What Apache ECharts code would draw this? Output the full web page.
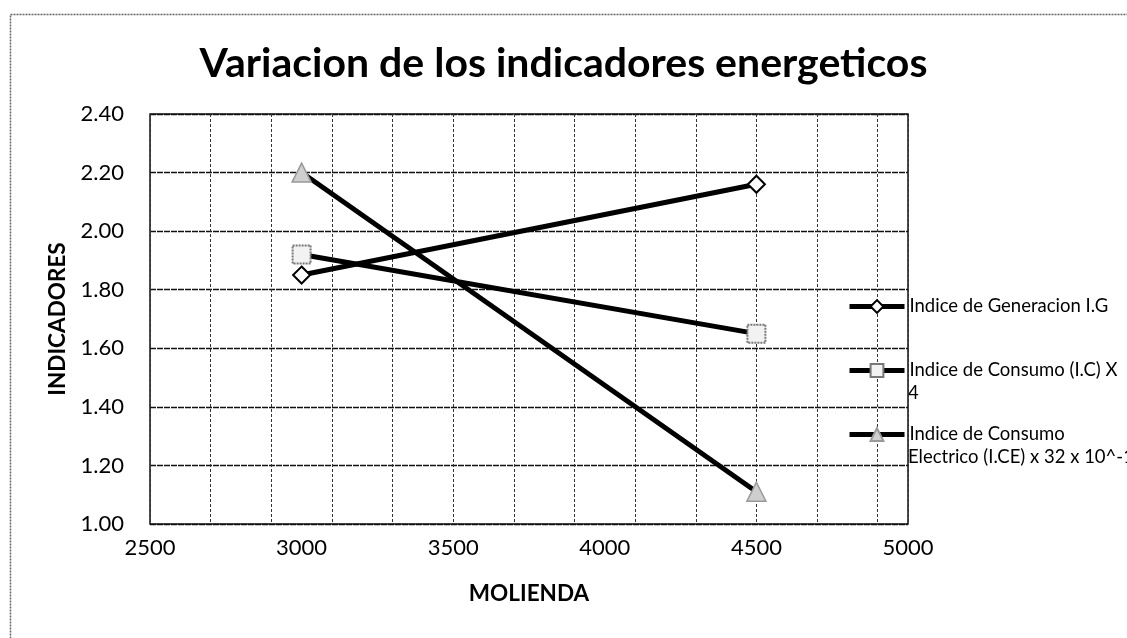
<!DOCTYPE html>
<html>
<head>
<meta charset="utf-8">
<script src="https://cdn.jsdelivr.net/npm/echarts@6/dist/echarts.min.js"></script>
<style>
  html, body { margin: 0; padding: 0; background: #fff; }
  #chart { width: 1127px; height: 638px; }
</style>
</head>
<body>
<div id="chart"></div>
<script>
// Molienda (x) and the three indicators measured at each level
const molienda = [3000, 4500];
const indiceGeneracion = [1.85, 2.16];
const indiceConsumo = [1.92, 1.65];
const indiceConsumoElectrico = [2.20, 1.11];

const seriesNames = [
  'Indice de Generacion I.G',
  'Indice de Consumo (I.C) X 4',
  'Indice de Consumo Electrico (I.CE) x 32 x 10^-1'
];
// Legend text as it wraps on screen: first line beside the key, the rest below
const legendLines = [
  ['Indice de Generacion I.G'],
  ['Indice de Consumo (I.C) X', '4'],
  ['Indice de Consumo', 'Electrico (I.CE) x 32 x 10^-1']
];

const xMin = 2500, xMax = 5000, xStep = 500;
const gridStep = 200;   // vertical grid lines every 200 starting at 2500
const yMin = 1.0, yMax = 2.4, yStep = 0.2;

const FONT = 'Lato';
const LEGEND_LEFT = 847, LEGEND_KEY = 55, LEGEND_GAP = 1;
const LEGEND_CENTERS = [305, 369, 433];
const LEGEND_FONT = 18.5, LEGEND_LINE = 23;

function pairs(xs, ys) { return xs.map((x, i) => [x, ys[i]]); }

const chart = echarts.init(document.getElementById('chart'));

function lineSeries(name, data, symbol, size, itemStyle) {
  return {
    name, type: 'line', data, xAxisIndex: 0, yAxisIndex: 0,
    symbol, symbolSize: size, showSymbol: true,
    lineStyle: { color: '#000', width: 5 },
    itemStyle,
    z: 3
  };
}

function legendFor(i) {
  return {
    orient: 'vertical', left: LEGEND_LEFT, top: LEGEND_CENTERS[i] - 8, padding: 0,
    itemWidth: LEGEND_KEY, itemHeight: 16, itemGap: 0, itemTextGap: LEGEND_GAP,
    data: [seriesNames[i]],
    formatter: () => legendLines[i][0],
    lineStyle: { width: 5, color: '#000' },
    textStyle: { fontFamily: FONT, fontSize: LEGEND_FONT, color: '#000' },
    selectedMode: false
  };
}

// continuation lines of the wrapped legend entries
const legendExtra = [];
legendLines.forEach((lines, i) => {
  lines.slice(1).forEach((t, k) => {
    legendExtra.push({
      type: 'text', left: LEGEND_LEFT + LEGEND_KEY + LEGEND_GAP + 5,
      top: LEGEND_CENTERS[i] + LEGEND_LINE * (k + 1) - LEGEND_FONT * 0.62 + 3,
      style: { text: t, fontFamily: FONT, fontSize: LEGEND_FONT, fill: '#000' }
    });
  });
});

chart.setOption({
  backgroundColor: '#fff',
  animation: false,
  title: {
    text: 'Variacion de los indicadores energeticos',
    left: 'center', top: 38,
    textStyle: { fontFamily: FONT, fontSize: 41, fontWeight: 'bold', color: '#000' }
  },
  graphic: [{
    type: 'rect', left: 8, top: 12, z: -1,
    shape: { width: 1300, height: 800 },
    style: { fill: 'none', stroke: '#666', lineWidth: 1.5, lineDash: [2, 1] }
  }].concat(legendExtra),
  legend: [legendFor(0), legendFor(1), legendFor(2)],
  grid: {
    left: 150, right: 219, top: 114, bottom: 114,
    show: true, borderColor: '#111', borderWidth: 1.5, backgroundColor: 'transparent'
  },
  xAxis: [{
    type: 'value', min: xMin, max: xMax, interval: xStep,
    name: 'MOLIENDA', nameLocation: 'middle', nameGap: 58,
    nameTextStyle: { fontFamily: FONT, fontSize: 22.5, fontWeight: 'bold', color: '#000' },
    axisLine: { show: false }, axisTick: { show: false },
    axisLabel: { fontFamily: FONT, fontSize: 22, color: '#000', margin: 13,
      formatter: v => String(v) },
    splitLine: { show: false }
  }, {
    // grid-only axis: its 0 sits at 2500, so lines fall at 2500, 2700, ... 4900
    type: 'value', min: 0, max: xMax - xMin, interval: gridStep,
    position: 'bottom',
    axisLine: { show: false }, axisTick: { show: false }, axisLabel: { show: false },
    splitLine: { show: true, lineStyle: { color: '#333', width: 1, type: [3, 2] } }
  }],
  yAxis: {
    type: 'value', min: yMin, max: yMax, interval: yStep,
    name: 'INDICADORES', nameLocation: 'middle', nameGap: 76, nameRotate: 90,
    nameTextStyle: { fontFamily: FONT, fontSize: 22.5, fontWeight: 'bold', color: '#000' },
    axisLine: { show: false }, axisTick: { show: false },
    axisLabel: { fontFamily: FONT, fontSize: 22, color: '#000', margin: 26,
      formatter: v => v.toFixed(2) },
    splitLine: { show: true, lineStyle: { color: '#111', width: 1.3, type: [6, 1] } }
  },
  series: [
    lineSeries(seriesNames[0], pairs(molienda, indiceGeneracion), 'diamond', 17,
      { color: '#fff', borderColor: '#000', borderWidth: 2 }),
    lineSeries(seriesNames[1], pairs(molienda, indiceConsumo), 'rect', 18,
      { color: '#f2f2f2', borderColor: '#777', borderWidth: 2, borderType: [2, 1] }),
    lineSeries(seriesNames[2], pairs(molienda, indiceConsumoElectrico), 'triangle', 19,
      { color: '#cfcfcf', borderColor: '#999', borderWidth: 1.5 })
  ]
});
</script>
</body>
</html>
